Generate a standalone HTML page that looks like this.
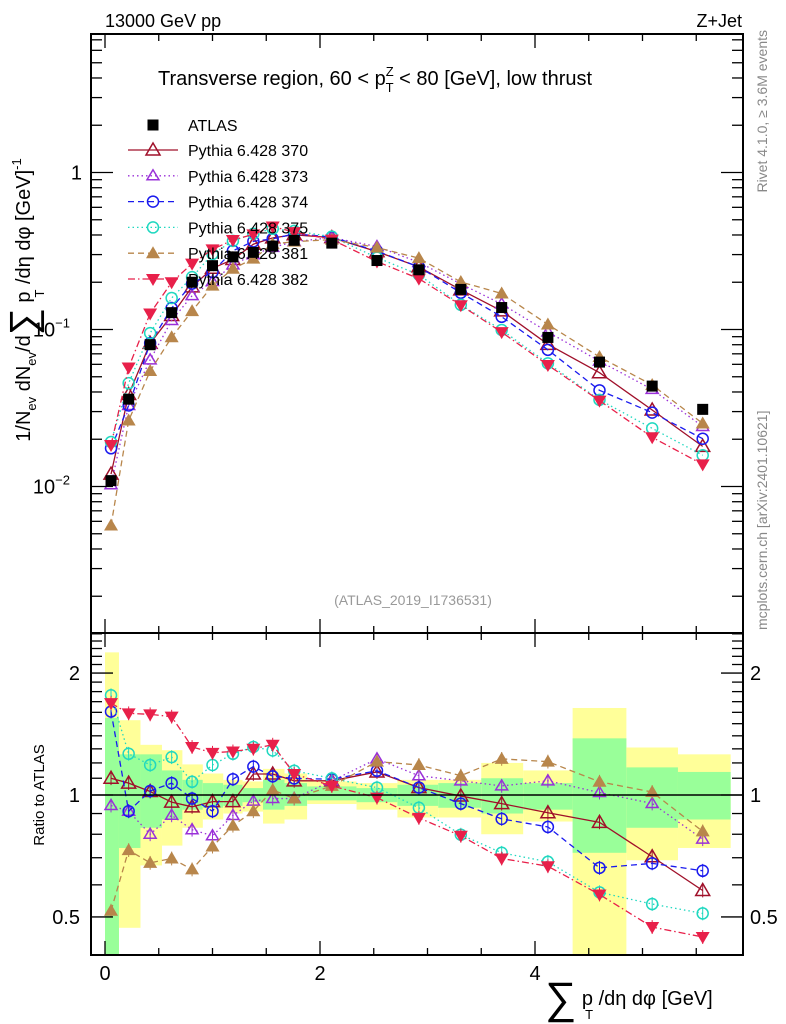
<!DOCTYPE html>
<html><head><meta charset="utf-8"><style>
html,body{margin:0;padding:0;background:#fff;}
svg{display:block;font-family:"Liberation Sans",sans-serif;}
</style></head><body>
<svg id="chart" width="786" height="1024" viewBox="0 0 786 1024" xmlns="http://www.w3.org/2000/svg">
<text x="105" y="27" font-size="18">13000 GeV pp</text>
<text x="742" y="27" font-size="18" text-anchor="end">Z+Jet</text>
<text transform="translate(767,30) rotate(-90)" font-size="14" fill="#888" text-anchor="end">Rivet 4.1.0, ≥ 3.6M events</text>
<text transform="translate(767,630) rotate(-90)" font-size="14" fill="#888">mcplots.cern.ch [arXiv:2401.10621]</text>
<g id="bands"></g>
<g id="marks"></g>
<g id="axes"></g>
<text x="158" y="85" font-size="20">Transverse region, 60 &lt; p<tspan font-size="13" dy="-9">Z</tspan><tspan font-size="13" dx="-8" dy="16">T</tspan><tspan dy="-7"> &lt; 80 [GeV], low thrust</tspan></text>
<text x="413" y="605" font-size="14" fill="#999" text-anchor="middle">(ATLAS_2019_I1736531)</text>
<text transform="translate(30,300) rotate(-90)" font-size="20" text-anchor="middle">1/N<tspan font-size="13" dy="6">ev</tspan><tspan dy="-6"> dN</tspan><tspan font-size="13" dy="6">ev</tspan><tspan dy="-6">/d</tspan><tspan font-size="38" dy="6">∑</tspan><tspan dy="-6"> p</tspan><tspan font-size="13" dy="14" dx="-6">T</tspan><tspan dy="-14"> /dη dφ  [GeV]</tspan><tspan font-size="13" dy="-9">-1</tspan></text>
<text transform="translate(44,795) rotate(-90)" font-size="15" text-anchor="middle">Ratio to ATLAS</text>
<text x="545" y="1005" font-size="20"><tspan font-size="44" dy="8">∑</tspan><tspan dy="-8"> p</tspan><tspan font-size="13" dx="-8" dy="14">T</tspan><tspan dy="-14"> /dη dφ [GeV]</tspan></text>
<g id="legend"></g>
</svg>
<script>
const xCenters = [0.056,0.22,0.42,0.62,0.81,1.0,1.19,1.38,1.56,1.76,2.11,2.53,2.92,3.31,3.69,4.12,4.6,5.09,5.56];
const binEdges = [0,0.13,0.33,0.53,0.72,0.91,1.1,1.28,1.47,1.67,1.88,2.34,2.72,3.1,3.5,3.89,4.35,4.85,5.33,5.82];
const atlasValues = [0.0109,0.036,0.080,0.128,0.20,0.255,0.29,0.31,0.34,0.37,0.355,0.275,0.24,0.18,0.138,0.089,0.062,0.0436,0.031];
const yellowLo = [0.38,0.47,0.67,0.75,0.83,0.87,0.90,0.91,0.85,0.87,0.95,0.92,0.88,0.88,0.80,0.86,0.38,0.69,0.74];
const yellowHi = [2.25,1.53,1.33,1.29,1.19,1.13,1.09,1.08,1.16,1.13,1.08,1.07,1.09,1.09,1.20,1.15,1.64,1.31,1.26];
const greenLo = [0.38,0.74,0.83,0.87,0.92,0.93,0.94,0.96,0.92,0.94,0.97,0.96,0.94,0.93,0.90,0.92,0.72,0.83,0.87];
const greenHi = [1.55,1.26,1.26,1.15,1.09,1.07,1.06,1.04,1.09,1.07,1.05,1.04,1.06,1.07,1.10,1.07,1.38,1.17,1.14];
const ratio370 = [1.10,1.07,1.02,0.96,0.935,0.963,0.963,1.127,1.127,1.084,1.084,1.14,1.043,0.994,0.952,0.904,0.856,0.704,0.581];
const ratio373 = [0.942,0.912,0.80,0.891,0.821,0.793,0.89,0.966,0.98,0.98,1.084,1.228,1.116,1.084,1.053,1.084,1.014,0.953,0.778];
const ratio374 = [1.607,0.912,1.023,1.07,0.98,0.912,1.094,1.175,1.112,1.099,1.094,1.148,1.043,0.952,0.873,0.834,0.661,0.678,0.65];
const ratio375 = [1.763,1.264,1.186,1.24,1.078,1.186,1.264,1.314,1.288,1.148,1.099,1.043,0.93,0.798,0.72,0.684,0.575,0.538,0.51];
const ratio381 = [0.518,0.731,0.68,0.697,0.655,0.746,0.84,0.912,1.029,0.98,1.053,1.209,1.186,1.116,1.228,1.209,1.078,1.017,0.813];
const ratio382 = [1.686,1.591,1.582,1.561,1.314,1.271,1.281,1.301,1.331,1.127,1.053,0.985,0.878,0.793,0.697,0.667,0.568,0.472,0.446];
const seriesNames = ["Pythia 6.428 370","Pythia 6.428 373","Pythia 6.428 374","Pythia 6.428 375","Pythia 6.428 381","Pythia 6.428 382"];

const NS="http://www.w3.org/2000/svg";
const X0=91,X1=743,MT=34,MB=633,RT=633,RB=955;
const sx=v=>105+107.5*v;
const sy=v=>172.5-157*Math.log10(v);
const sr=v=>795-405*Math.log10(v);
function mk(tag,attrs,parent){const e=document.createElementNS(NS,tag);for(const k in attrs)e.setAttribute(k,attrs[k]);parent.appendChild(e);return e;}
const bands=document.getElementById('bands'),marks=document.getElementById('marks'),axes=document.getElementById('axes'),legend=document.getElementById('legend');

binEdges.slice(0,-1).forEach((e,i)=>{
  const x=sx(e),w=sx(binEdges[i+1])-x;
  const clip=v=>Math.min(RB,Math.max(RT,v));
  const y1=clip(sr(yellowHi[i])),y2=clip(sr(yellowLo[i]));
  const r=mk('rect',{x:x,y:y1,width:w,height:y2-y1,fill:'#ffff99'},bands);
  
  
  const g1=clip(sr(greenHi[i])),g2=clip(sr(greenLo[i]));
  const g=mk('rect',{x:x,y:g1,width:w,height:g2-g1,fill:'#99ff99'},bands);
  
  
});

const styles=[
 {c:'#a0102a',d:'',m:'tri-open',r:ratio370},
 {c:'#9a30d8',d:'1.5,3',m:'tri-open-s',r:ratio373},
 {c:'#1a1aee',d:'6,4',m:'circ',r:ratio374},
 {c:'#20d8c0',d:'1.5,3',m:'circ',r:ratio375},
 {c:'#b8864b',d:'6,4',m:'tri-fill',r:ratio381},
 {c:'#e8204a',d:'7,3,1.5,3',m:'tri-down',r:ratio382}
];
function marker(type,x,y,c,parent,name){
  let e;
  if(type==='tri-open') e=mk('polygon',{points:`${x},${y-7} ${x-7},${y+5} ${x+7},${y+5}`,fill:'none',stroke:c,'stroke-width':1.5},parent);
  else if(type==='tri-open-s') e=mk('polygon',{points:`${x},${y-6} ${x-6},${y+4} ${x+6},${y+4}`,fill:'none',stroke:c,'stroke-width':1.5},parent);
  else if(type==='circ') e=mk('circle',{cx:x,cy:y,r:5.5,fill:'none',stroke:c,'stroke-width':1.5},parent);
  else if(type==='tri-fill') e=mk('polygon',{points:`${x},${y-7} ${x-7},${y+5} ${x+7},${y+5}`,fill:c},parent);
  else if(type==='tri-down') e=mk('polygon',{points:`${x},${y+7} ${x-7},${y-5} ${x+7},${y-5}`,fill:c},parent);
  else e=mk('rect',{x:x-5.5,y:y-5.5,width:11,height:11,fill:'#000'},parent);
  
  
  return e;
}
const ref=mk('line',{x1:X0,x2:X1,y1:sr(1),y2:sr(1),stroke:'#000','stroke-width':1.5},axes);



styles.forEach((s,k)=>{
  const mainPts=xCenters.map((x,i)=>`${sx(x)},${sy(atlasValues[i]*s.r[i])}`).join(' ');
  const l=mk('polyline',{points:mainPts,fill:'none',stroke:s.c,'stroke-width':1.3,'stroke-dasharray':s.d},marks);
  
  
  const rPts=xCenters.map((x,i)=>`${sx(x)},${sr(s.r[i])}`).join(' ');
  const l2=mk('polyline',{points:rPts,fill:'none',stroke:s.c,'stroke-width':1.3,'stroke-dasharray':s.d},marks);
  
  
  xCenters.forEach((x,i)=>{
    const yy=sr(s.r[i]);
    const eb=mk('line',{x1:sx(x),x2:sx(x),y1:sr(s.r[i]*1.04),y2:sr(s.r[i]/1.04),stroke:s.c,'stroke-width':1},marks);
    
    
    marker(s.m,sx(x),sy(atlasValues[i]*s.r[i]),s.c,marks,'mc-point');
    marker(s.m,sx(x),yy,s.c,marks,'ratio-point');
  });
});
xCenters.forEach((x,i)=>marker('sq',sx(x),sy(atlasValues[i]),'#000',marks,'atlas-point'));

[[MT,MB],[RT,RB]].forEach(([t,b],j)=>{
  const f=mk('rect',{x:X0,y:t,width:X1-X0,height:b-t,fill:'none',stroke:'#000','stroke-width':2},axes);
  
  
});
for(let v=0;v<=5.8;v+=0.5){
  const x=sx(v),big=Math.abs(v-Math.round(v/2)*2)<1e-6;
  const len=big?14:7;
  [[MT,1],[MB,-1],[RT,1],[RB,-1]].forEach(([y,d])=>mk('line',{x1:x,x2:x,y1:y,y2:y+d*len,stroke:'#000','stroke-width':1.3},axes));
}
['0','2','4'].forEach((t,i)=>{
  const tx=mk('text',{x:sx(i*2),y:980,'font-size':20,'text-anchor':'middle'},axes);tx.textContent=t;
  
  
});
for(let e=-3;e<=0;e++)for(let m=1;m<10;m++){
  const v=m*Math.pow(10,e),y=sy(v);
  if(y<MT||y>MB)continue;
  const len=m===1?22:11;
  mk('line',{x1:X0,x2:X0+len,y1:y,y2:y,stroke:'#000','stroke-width':1.3},axes);
  mk('line',{x1:X1,x2:X1-len,y1:y,y2:y,stroke:'#000','stroke-width':1.3},axes);
}
const ylabs=[[1,'1',''],[0.1,'10','−1'],[0.01,'10','−2']];
ylabs.forEach(([v,b,s])=>{
  const t=mk('text',{x:s?70:82,y:sy(v)+7,'font-size':20,'text-anchor':'end'},axes);
  t.textContent=b;
  if(s){const ts=mk('tspan',{'font-size':13,dy:-9},t);ts.textContent=s;}
  
  
});
for(let v=0.4;v<2.55;v+=0.1){
  const y=sr(v);if(y<RT||y>RB)continue;
  const major=Math.abs(v-0.5)<1e-6||Math.abs(v-1)<1e-6||Math.abs(v-2)<1e-6;
  const len=major?22:11;
  mk('line',{x1:X0,x2:X0+len,y1:y,y2:y,stroke:'#000','stroke-width':1.3},axes);
  mk('line',{x1:X1,x2:X1-len,y1:y,y2:y,stroke:'#000','stroke-width':1.3},axes);
}
[[2,'2'],[1,'1'],[0.5,'0.5']].forEach(([v,s])=>{
  const a=mk('text',{x:80,y:sr(v)+7,'font-size':20,'text-anchor':'end'},axes);a.textContent=s;
  
  
  const b=mk('text',{x:750,y:sr(v)+7,'font-size':20},axes);b.textContent=s;
  
  
});
const la=mk('text',{x:188,y:131,'font-size':16},legend);la.textContent='ATLAS';


marker('sq',153,125,'#000',legend,'legend-marker-atlas');
styles.forEach((s,k)=>{
  const y=150+k*25.8;
  const ln=mk('line',{x1:128,x2:178,y1:y,y2:y,stroke:s.c,'stroke-width':1.3,'stroke-dasharray':s.d},legend);
  
  
  marker(s.m,153,y,s.c,legend,'legend-marker');
  const t=mk('text',{x:188,y:y+6,'font-size':16},legend);t.textContent=seriesNames[k];
  
  
});
</script>
</body></html>
